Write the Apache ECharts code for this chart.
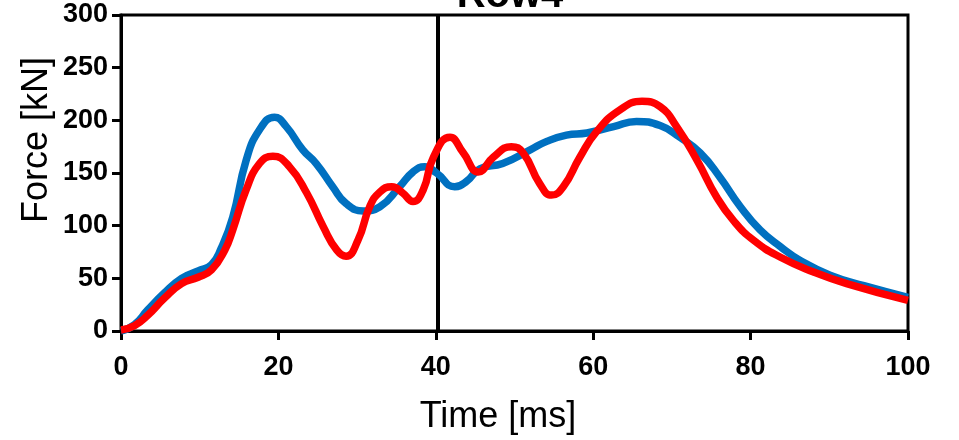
<!DOCTYPE html>
<html>
<head>
<meta charset="utf-8">
<script src="https://cdn.jsdelivr.net/npm/echarts@6/dist/echarts.min.js"></script>
<style>html,body{margin:0;padding:0;background:#fff;}#c{width:959px;height:440px;}</style>
</head>
<body>
<div id="c"></div>
<script>
var chartTitle = 'Row4';
var xName = 'Time [ms]';
var yName = 'Force [kN]';
var xTicks = [0, 20, 40, 60, 80, 100];
var yTicks = [0, 50, 100, 150, 200, 250, 300];
var markerTime = 40.3;

var blueTime = [0,1.7,3.4,5.5,7.7,9.8,11.5,12.7,14.2,15.9,17.6,19.5,21,23.1,24.8,26.9,28.6,30.8,32.9,35.4,37.1,38.6,40.1,42.4,43.9,45.6,48.5,52,54.1,56.6,59.2,62.6,65.5,68.5,71,73.6,76.1,78.7,81.2,83.8,86.3,90.1,94.4,100];
var blueForce = [0,6,20,36,50,57,63,78,108,162,191,203,194,172,159,137,121,114,118,137,151,156,150,137,142,154,159,172,180,186,188,194,199,195,184,169,146,118,96,80,67,53,43,32];

var redTime = [0,1.7,3.4,5.5,7.7,9.8,11.5,13.2,14.2,15.9,17.6,19.3,21.4,23.6,25.7,27.4,28.6,30.1,31.6,32.9,34.4,35.8,37.1,38.4,39.7,41.8,43.5,45.4,47.3,49.6,51.1,53.2,54.7,56.2,58.3,60.4,63.4,66.2,68.5,70.6,73.2,75.7,77.8,80.4,83.8,88,92.2,100];
var redForce = [1,5,15,31,45,51,58,77,96,134,159,166,156,131,99,77,71,86,118,132,137,131,123,134,165,184,169,151,165,175,169,140,129,137,165,189,210,218,213,194,162,127,105,86,70,56,45,29];

function pairs(t, f) { return t.map(function (v, i) { return [v, f[i]]; }); }

var chart = echarts.init(document.getElementById('c'), null, {renderer: 'canvas'});
var labelFont = {color: '#000', fontFamily: 'Liberation Sans, Arial, sans-serif', fontWeight: 'bold', fontSize: 27};
chart.setOption({
  animation: false,
  backgroundColor: '#fff',
  grid: {left: 121, right: 51, top: 15, bottom: 109, show: true, borderColor: '#000', borderWidth: 3, backgroundColor: 'transparent'},
  xAxis: {
    type: 'value', min: xTicks[0], max: xTicks[xTicks.length - 1], interval: xTicks[1] - xTicks[0],
    axisLine: {show: true, onZero: false, lineStyle: {color: '#000', width: 3}},
    axisTick: {show: true, inside: false, length: 9, lineStyle: {color: '#000', width: 3}},
    axisLabel: Object.assign({margin: 23}, labelFont),
    splitLine: {show: false}
  },
  yAxis: {
    type: 'value', min: yTicks[0], max: yTicks[yTicks.length - 1], interval: yTicks[1] - yTicks[0],
    axisLine: {show: true, onZero: false, lineStyle: {color: '#000', width: 3}},
    axisTick: {show: true, inside: false, length: 9, lineStyle: {color: '#000', width: 3}},
    axisLabel: Object.assign({margin: 13}, labelFont),
    splitLine: {show: false}
  },
  graphic: [
    {type: 'text', x: 510, y: 16, style: {text: chartTitle, fill: '#000', font: 'bold 40px "Liberation Sans", Arial, sans-serif', textAlign: 'center', textVerticalAlign: 'bottom'}, z: 100},
    {type: 'text', x: 498, y: 417, style: {text: xName, fill: '#000', font: '36px "Liberation Sans", Arial, sans-serif', textAlign: 'center', textVerticalAlign: 'middle'}},
    {type: 'text', x: 37, y: 140, rotation: Math.PI / 2, style: {text: yName, fill: '#000', font: '36px "Liberation Sans", Arial, sans-serif', textAlign: 'center', textVerticalAlign: 'middle'}}
  ],
  series: [
    {
      type: 'line', name: 'blue', data: pairs(blueTime, blueForce), smooth: 0.5, showSymbol: false, symbol: 'none',
      lineStyle: {color: '#0070C0', width: 7.5}, z: 3,
      markLine: {silent: true, symbol: ['none', 'none'], label: {show: false}, lineStyle: {color: '#000', width: 4, type: 'solid'}, data: [{xAxis: markerTime}], z: 2}
    },
    {
      type: 'line', name: 'red', data: pairs(redTime, redForce), smooth: 0.5, showSymbol: false, symbol: 'none',
      lineStyle: {color: '#FF0000', width: 7.5}, z: 4
    }
  ]
});
</script>
</body>
</html>
